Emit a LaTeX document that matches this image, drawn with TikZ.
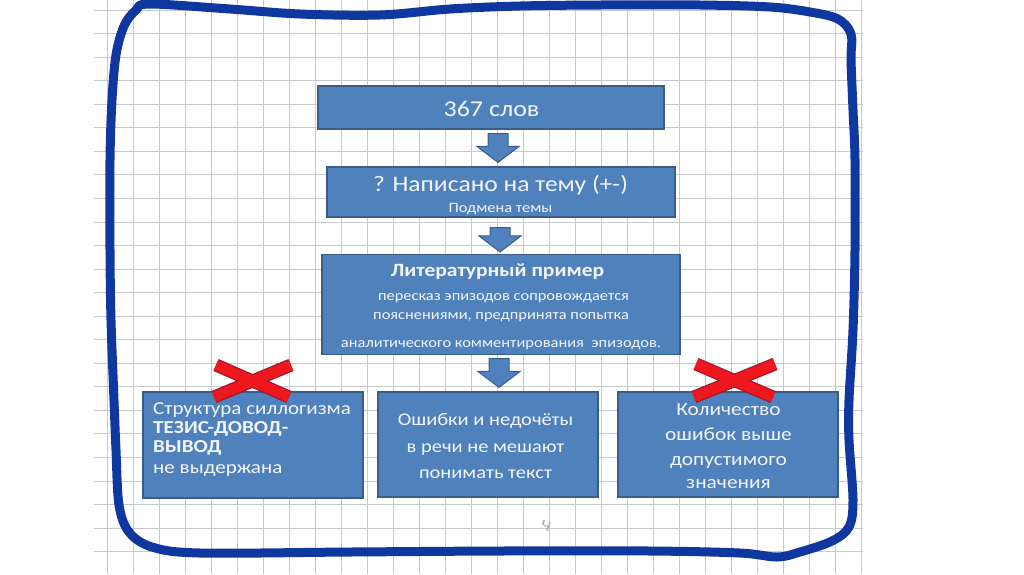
\documentclass[tikz,border=0pt]{standalone}
\usepackage{fontspec}
\setmainfont{Carlito}[FakeStretch=1.15]
\usetikzlibrary{calc}
\definecolor{boxblue}{RGB}{79,129,189}
\definecolor{boxedge}{RGB}{56,93,138}
\definecolor{penblue}{RGB}{14,56,160}
\definecolor{gridc}{RGB}{198,200,210}
\definecolor{xred}{RGB}{240,22,32}
\definecolor{xedge}{RGB}{160,24,44}
\definecolor{txt}{RGB}{244,245,250}
\newcommand\blockarr[2]{%
  \filldraw[arrowsty] let \p1=(#1), \p2=(#2) in
  (\x1-10pt,\y1) -- (\x1+10pt,\y1) -- (\x1+10pt,\y2+16pt) -- (\x1+21pt,\y2+16pt)
  -- (\x1,\y2) -- (\x1-21pt,\y2+16pt) -- (\x1-10pt,\y2+16pt) -- cycle;}
\newcommand\fs[1]{\fontsize{#1}{#1}\selectfont}
\begin{document}
\begin{tikzpicture}[x=1pt,y=-1pt,
  gridline/.style={draw=gridc, line width=0.9pt},
  box/.style={draw=boxedge, line width=1.1pt, fill=boxblue, inner sep=0pt},
  lbl/.style={text=txt, inner sep=0pt, anchor=base},
  lbll/.style={text=txt, inner sep=0pt, anchor=base west},
  arrowsty/.style={draw=boxedge, line width=1pt, fill=boxblue, line join=miter},
  xout/.style={draw=xedge, line width=13pt},
  xin/.style={draw=xred, line width=10.5pt},
  pen/.style={draw=penblue, line width=9pt, line cap=round, line join=round}]
\useasboundingbox (0,0) rectangle (1024,574);
\fill[white] (0,0) rectangle (1024,574);
% graph paper
\foreach \i in {0,...,29} \draw[gridline] (107+26*\i,0) -- (107+26*\i,574);
\foreach \j in {0,...,24} \draw[gridline] (94,10+23.55*\j) -- (863,10+23.55*\j);
% hand-drawn frame
\draw[pen] plot[smooth cycle, tension=0.55] coordinates {
 (150,4) (230,9) (300,14) (380,15) (450,9) (520,6) (600,5) (700,5) (770,7) (810,12)
 (838,19) (851,34) (851,60) (853,110) (855,160) (855,250) (853,330) (849,400) (849,440)
 (853,500) (849,527) (832,541) (800,552) (777,557) (740,553) (650,551) (500,551)
 (350,552) (200,553) (152,547) (129,532) (119,505) (116,450) (114,400) (111,320)
 (110,250) (110,160) (112,100) (116,55) (124,26) (136,10)};
% boxes
\node[box, minimum width=346, minimum height=43] (b1) at (491,107.5) {};
\node[box, minimum width=348, minimum height=50] (b2) at (501,192) {};
\node[box, minimum width=358, minimum height=100] (b3) at (501,304.5) {};
\node[box, minimum width=220, minimum height=106] (b4) at (253,445) {};
\node[box, minimum width=220, minimum height=105] (b5) at (488,444.5) {};
\node[box, minimum width=220, minimum height=105] (b6) at (728,444.5) {};
% texts
\node[lbl, font=\fs{22.6}] (t1) at (491.5,116.7) {367 слов};
\node[lbl, font=\fs{22.2}] (t2a) at (500.5,191.7) {? Написано на тему (+-)};
\node[lbl, font=\fs{14.3}] (t2b) at (500.5,212.7) {Подмена темы};
\node[lbl, font=\fs{18.7}\bfseries] (t3a) at (497.5,276.7) {Литературный пример};
\node[lbl, font=\fs{14.3}] (t3b) at (503.5,300) {пересказ эпизодов сопровождается};
\node[lbl, font=\fs{14.3}] (t3c) at (501,319) {пояснениями, предпринята попытка};
\node[lbl, font=\fs{14.3}] (t3d) at (501,347) {аналитического комментирования\ \ эпизодов.};
\node[lbll, font=\fs{18.3}] (t4a) at (153,414) {Структура силлогизма};
\node[lbll, font=\fs{18.3}\bfseries] (t4b) at (153,433) {ТЕЗИС-ДОВОД-};
\node[lbll, font=\fs{18.3}\bfseries] (t4c) at (153,452) {ВЫВОД};
\node[lbll, font=\fs{18.3}] (t4d) at (153,473) {не выдержана};
\node[lbl, font=\fs{17.8}] (t5a) at (485.5,425) {Ошибки и недочёты};
\node[lbl, font=\fs{17.8}] (t5b) at (485.5,452) {в речи не мешают};
\node[lbl, font=\fs{17.8}] (t5c) at (485.5,478) {понимать текст};
\node[lbl, font=\fs{18.6}] (t6a) at (728.5,415) {Количество};
\node[lbl, font=\fs{18.6}] (t6b) at (728.5,440) {ошибок выше};
\node[lbl, font=\fs{18.6}] (t6c) at (728.5,465) {допустимого};
\node[lbl, font=\fs{18.6}] (t6d) at (728.5,488) {значения};
% block arrows
\coordinate (a1s) at ($(b1.south)+(7,4)$);
\coordinate (a1e) at ($(b2.north)+(-3,-4)$);
\coordinate (a2s) at ($(b2.south)+(-1,10)$);
\coordinate (a2e) at ($(b3.north)+(-1,-2)$);
\coordinate (a3s) at ($(b3.south)+(-2,3.5)$);
\coordinate (a3e) at ($(b5.north)+(11,-4)$);
\blockarr{a1s}{a1e}
\blockarr{a2s}{a2e}
\blockarr{a3s}{a3e}
% red crosses
\draw[xout] (216,365) -- (289,397);
\draw[xout] (291,365) -- (214,397);
\draw[xin] (216,365) -- (289,397);
\draw[xin] (291,365) -- (214,397);
\draw[xout] (696,364) -- (773,397);
\draw[xout] (775,364) -- (694,397);
\draw[xin] (696,364) -- (773,397);
\draw[xin] (775,364) -- (694,397);
% pencil mark
\node[text=gray!60, font=\fs{19}, rotate=-20, inner sep=0pt] (mark) at (546,526) {ч};
\end{tikzpicture}
\end{document}
